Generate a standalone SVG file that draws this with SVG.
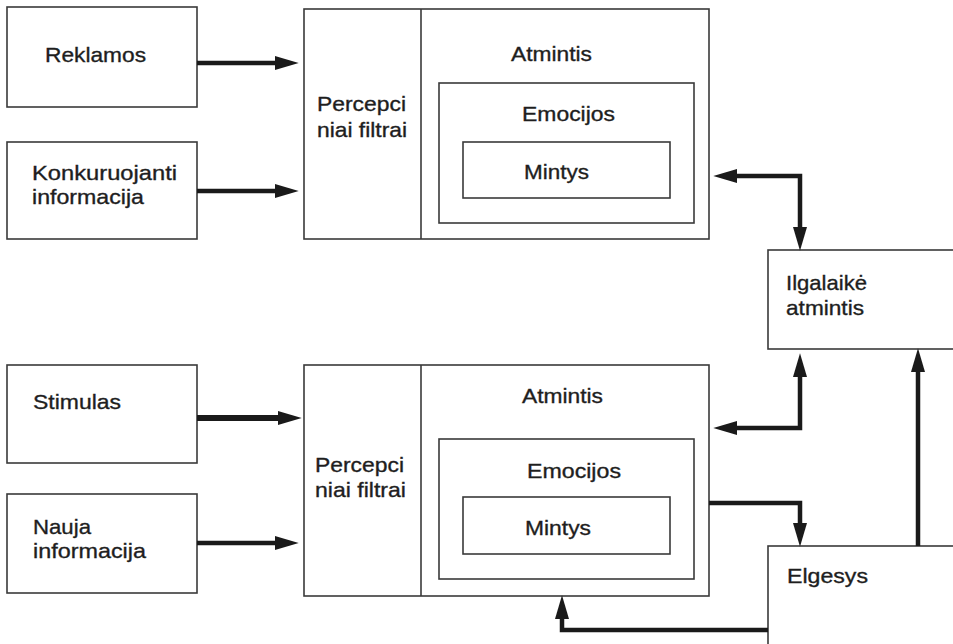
<svg xmlns="http://www.w3.org/2000/svg" width="953" height="644" viewBox="0 0 953 644">
  <style>
    .box { fill: #ffffff; stroke: #3a3a3a; stroke-width: 1.6; }
    .lbl { font-family: "Liberation Sans", Arial, sans-serif; font-size: 21px; fill: #1e1e1e; stroke: #1e1e1e; stroke-width: 0.35; }
    .flow { fill: none; stroke: #1a1a1a; stroke-width: 4.5; marker-end: url(#head); }
    .both { marker-start: url(#head); }
  </style>
  <defs>
    <marker id="head" markerUnits="userSpaceOnUse" markerWidth="24" markerHeight="14" refX="0" refY="6.5" orient="auto-start-reverse" viewBox="0 0 22 13">
      <path d="M0,0 L22,6.5 L0,13 Z" fill="#1a1a1a"/>
    </marker>
  </defs>

  <rect width="953" height="644" fill="#ffffff"/>

  <!-- input sources, upper block -->
  <g id="reklamos">
    <rect class="box" x="7" y="7" width="190" height="100"/>
    <text class="lbl" x="45" y="62" textLength="101" lengthAdjust="spacingAndGlyphs">Reklamos</text>
  </g>
  <g id="konkuruojanti">
    <rect class="box" x="7" y="142" width="190" height="97"/>
    <text class="lbl" x="32" y="180" textLength="145" lengthAdjust="spacingAndGlyphs">Konkuruojanti</text>
    <text class="lbl" x="32" y="204" textLength="112" lengthAdjust="spacingAndGlyphs">informacija</text>
  </g>

  <!-- processing block, upper -->
  <g id="procesas-1">
    <rect class="box" x="304" y="9" width="405" height="230"/>
    <line class="box" x1="421" y1="9" x2="421" y2="239"/>
    <text class="lbl" x="317" y="111" textLength="89" lengthAdjust="spacingAndGlyphs">Percepci</text>
    <text class="lbl" x="317" y="137" textLength="90" lengthAdjust="spacingAndGlyphs">niai filtrai</text>
    <text class="lbl" x="511" y="61" textLength="81" lengthAdjust="spacingAndGlyphs">Atmintis</text>
    <rect class="box" x="439" y="83" width="255" height="140"/>
    <text class="lbl" x="522" y="121" textLength="93" lengthAdjust="spacingAndGlyphs">Emocijos</text>
    <rect class="box" x="463" y="142" width="207" height="56"/>
    <text class="lbl" x="524" y="179" textLength="65" lengthAdjust="spacingAndGlyphs">Mintys</text>
  </g>

  <!-- long-term memory -->
  <g id="ilgalaike">
    <rect class="box" x="768" y="250" width="190" height="99"/>
    <text class="lbl" x="786" y="290" textLength="81" lengthAdjust="spacingAndGlyphs">Ilgalaikė</text>
    <text class="lbl" x="786" y="315" textLength="78" lengthAdjust="spacingAndGlyphs">atmintis</text>
  </g>

  <!-- input sources, lower block -->
  <g id="stimulas">
    <rect class="box" x="7" y="365" width="190" height="98"/>
    <text class="lbl" x="33" y="409" textLength="88" lengthAdjust="spacingAndGlyphs">Stimulas</text>
  </g>
  <g id="nauja">
    <rect class="box" x="7" y="494" width="190" height="99"/>
    <text class="lbl" x="33" y="534" textLength="58" lengthAdjust="spacingAndGlyphs">Nauja</text>
    <text class="lbl" x="33" y="558" textLength="113" lengthAdjust="spacingAndGlyphs">informacija</text>
  </g>

  <!-- processing block, lower -->
  <g id="procesas-2">
    <rect class="box" x="304" y="365" width="405" height="231"/>
    <line class="box" x1="421" y1="365" x2="421" y2="596"/>
    <text class="lbl" x="315" y="472" textLength="89" lengthAdjust="spacingAndGlyphs">Percepci</text>
    <text class="lbl" x="315" y="497" textLength="91" lengthAdjust="spacingAndGlyphs">niai filtrai</text>
    <text class="lbl" x="522" y="403" textLength="81" lengthAdjust="spacingAndGlyphs">Atmintis</text>
    <rect class="box" x="439" y="439" width="255" height="140"/>
    <text class="lbl" x="527" y="478" textLength="94" lengthAdjust="spacingAndGlyphs">Emocijos</text>
    <rect class="box" x="463" y="497" width="207" height="57"/>
    <text class="lbl" x="525" y="535" textLength="66" lengthAdjust="spacingAndGlyphs">Mintys</text>
  </g>

  <!-- behaviour -->
  <g id="elgesys">
    <rect class="box" x="768" y="546" width="190" height="102"/>
    <text class="lbl" x="787" y="583" textLength="81" lengthAdjust="spacingAndGlyphs">Elgesys</text>
  </g>

  <!-- connectors -->
  <g id="connectors">
    <path class="flow" d="M197,63 H275"/>
    <path class="flow" d="M197,191 H275"/>
    <path class="flow" d="M197,418 H278" style="stroke-width:6"/>
    <path class="flow" d="M197,543 H275"/>
    <path class="flow both" d="M737,176 H800 V227"/>
    <path class="flow both" d="M737,428 H800 V377"/>
    <path class="flow" d="M709,503 H800 V523"/>
    <path class="flow" d="M918,546 V372"/>
    <path class="flow" d="M768,630 H562 V619"/>
  </g>
</svg>
